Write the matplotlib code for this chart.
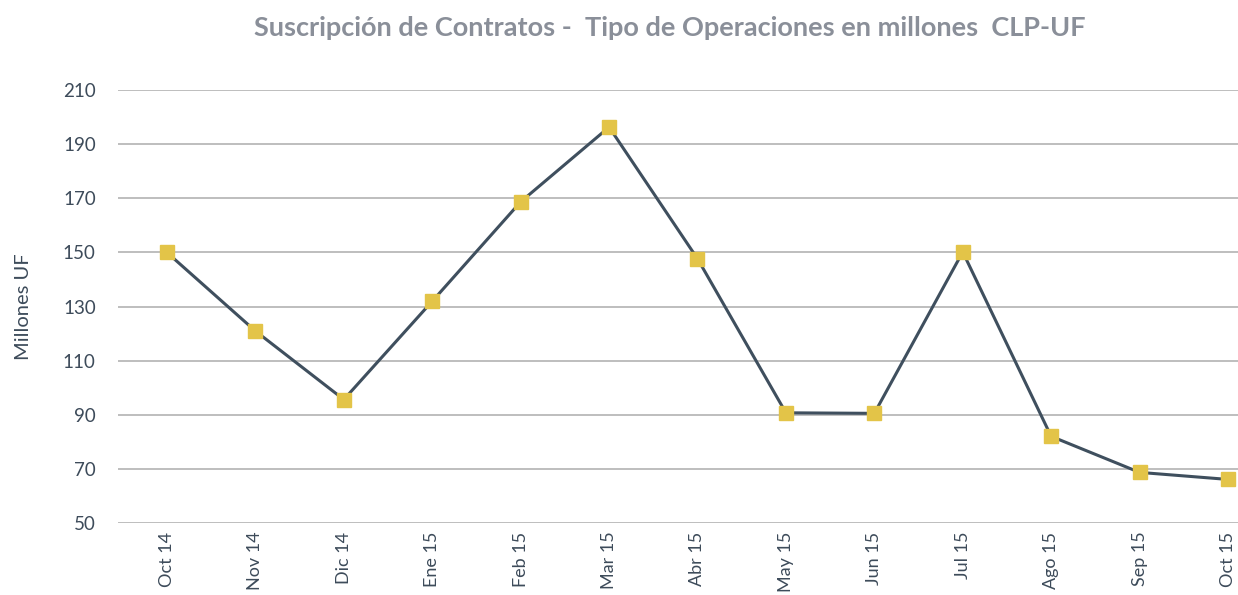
import matplotlib
matplotlib.use("Agg")
import matplotlib.pyplot as plt

months = ["Oct 14", "Nov 14", "Dic 14", "Ene 15", "Feb 15", "Mar 15", "Abr 15",
          "May 15", "Jun 15", "Jul 15", "Ago 15", "Sep 15", "Oct 15"]
values = [150, 121, 95.7, 132, 168.7, 196.3, 147.7, 90.8, 90.6, 150.2, 82.1, 68.8, 66.2]
yticks = [50, 70, 90, 110, 130, 150, 170, 190, 210]

plt.rcParams['font.family'] = ['Lato', 'DejaVu Sans']
text_color = "#3d4b5a"

fig = plt.figure(figsize=(12.38, 5.95), dpi=100)
ax = fig.add_axes([118/1238, (595-523.3)/595, 1 - 118/1238, (523.3-90)/595])

x = list(range(len(months)))
ax.plot(x, values, color="#3f4f5e", linewidth=2.2, zorder=3,
        marker="s", markersize=10, markerfacecolor="#e3c448",
        markeredgecolor="#e3c448")

ax.set_xlim(-0.554, 12.113)
ax.set_ylim(50, 210)
ax.set_yticks(yticks)
ax.set_xticks(x)
ax.set_xticklabels(months, rotation=90, fontsize=13, color=text_color)
ax.tick_params(axis='y', labelsize=13.5, labelcolor=text_color, length=0, pad=16)
ax.tick_params(axis='x', length=0, pad=6)
ax.grid(axis='y', color="#b9b9b9", linewidth=1.3)
ax.set_axisbelow(True)
for s in ax.spines.values():
    s.set_visible(False)

ax.set_ylabel("Millones UF", fontsize=14.5, color=text_color)
ax.yaxis.set_label_coords(-(118 - 32) / (1238 - 118), 0.5)
fig.text(670/1238, 1 - 28/595, "Suscripción de Contratos -  Tipo de Operaciones en millones  CLP-UF",
         ha='center', va='center', fontsize=19.5, fontweight='bold', color="#8a8f99")

fig.savefig("out.png", dpi=100)
